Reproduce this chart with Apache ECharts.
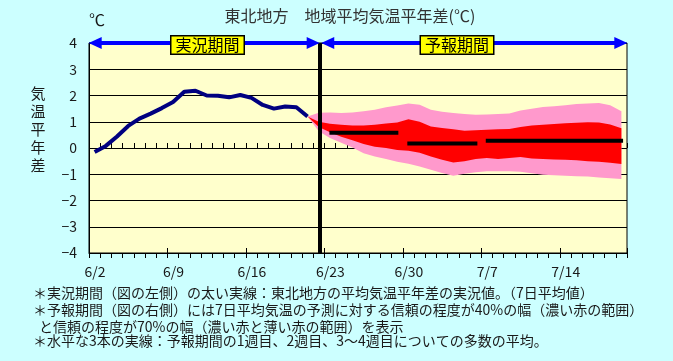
<!DOCTYPE html>
<html><head><meta charset="utf-8">
<script src="https://cdn.jsdelivr.net/npm/echarts@6/dist/echarts.min.js"></script>
<style>html,body{margin:0;padding:0;background:#CCFFFF;}#c{width:673px;height:361px;}</style>
</head><body><div id="c"></div>
<script>
// ---- data ----
const xTickLabels = ['6/2','6/9','6/16','6/23','6/30','7/7','7/14'];
const yTickValues = [-4,-3,-2,-1,0,1,2,3,4];
// observed 7-day mean anomaly, days 0..19 (6/2..6/21)
const obsValues = [-0.15,0.08,0.44,0.84,1.12,1.31,1.52,1.75,2.14,2.18,2.00,1.99,1.93,2.02,1.91,1.64,1.50,1.58,1.55,1.20];
const fcFirstDay = 19;   // forecast band starts at 6/21
const fcPinkHi = [1.20,1.34,1.35,1.33,1.35,1.40,1.46,1.55,1.62,1.70,1.65,1.46,1.38,1.33,1.30,1.27,1.28,1.30,1.31,1.43,1.50,1.56,1.59,1.63,1.68,1.70,1.71,1.63,1.40];
const fcRedHi  = [1.20,1.00,0.92,0.89,0.86,0.86,0.89,0.93,0.97,1.10,1.00,0.82,0.76,0.71,0.66,0.68,0.70,0.71,0.72,0.80,0.86,0.89,0.91,0.94,0.96,0.98,0.97,0.90,0.75];
const fcRedLo  = [1.20,0.80,0.60,0.43,0.30,0.15,0.05,0.00,-0.08,-0.10,-0.18,-0.32,-0.45,-0.55,-0.50,-0.42,-0.38,-0.42,-0.38,-0.34,-0.40,-0.42,-0.44,-0.45,-0.47,-0.50,-0.52,-0.56,-0.61];
const fcPinkLo = [1.20,0.64,0.38,0.20,0.02,-0.20,-0.32,-0.42,-0.52,-0.60,-0.70,-0.83,-0.95,-1.06,-0.98,-0.92,-0.89,-0.89,-0.89,-0.90,-0.96,-1.02,-1.04,-1.06,-1.08,-1.09,-1.12,-1.15,-1.18];
// ensemble means for week1, week2, weeks3-4
const weekMeanValues = [0.58, 0.17, 0.28];
const weekMeanStart  = [21.45, 28.4, 35.4];
const weekMeanEnd    = [27.6, 34.65, 47.65];
const periodSplitDay = 20.6;
// ---- build ----
const FONT = '"Noto Sans CJK JP", "Noto Sans", sans-serif';
const TXT = '#1a1a1a';
const obsData = obsValues.map((v,i)=>[i+0.5, v]);
const fx = i => fcFirstDay + 0.5 + i;
function bandSeries(hi, lo, color){
  const data = hi.map((v,i)=>[fx(i), lo[i], v]);
  return {
    type:'custom', silent:true, clip:true, data: data,
    renderItem: function(params, api){
      if (params.dataIndex !== 0) return null;
      const pts = [];
      for (let i=0;i<data.length;i++) pts.push(api.coord([data[i][0], data[i][2]]));
      for (let i=data.length-1;i>=0;i--) pts.push(api.coord([data[i][0], data[i][1]]));
      return {type:'polygon', shape:{points:pts}, style:{fill:color, stroke:null}};
    }
  };
}
const series = [
  bandSeries(fcPinkHi, fcPinkLo, '#FF99CC'),
  bandSeries(fcRedHi, fcRedLo, '#FF0000')
];
weekMeanValues.forEach((v,i)=>{
  series.push({type:'line', data:[[weekMeanStart[i], v],[weekMeanEnd[i], v]], symbol:'none',
    lineStyle:{color:'#000', width:4}, silent:true});
});
series[2].markLine = {silent:true, animation:false, symbol:'none', label:{show:false},
  lineStyle:{color:'#000', width:4, type:'solid'}, data:[{xAxis: periodSplitDay}]};
const arrowEnd = (x)=>({coord:[x,4], symbol:'triangle', symbolSize:[12,13]});
series.push({
  type:'line', data: obsData, symbol:'none', lineStyle:{color:'#000080', width:4}, silent:true,
  markLine: {silent:true, animation:false, label:{show:false},
    lineStyle:{color:'#0000FF', width:4, type:'solid'},
    data: [
      [arrowEnd(0.55), arrowEnd(20.0)],
      [arrowEnd(21.3), arrowEnd(47.45)]
    ]}
});
function dateLabel(v){
  const i = Math.round(v/7);
  return (Math.abs(v - i*7) < 1e-6 && i < xTickLabels.length) ? xTickLabels[i] : '';
}
const xBase = {type:'value', min:0, max:48, splitLine:{show:false}, gridIndex:0};
const option = {
  animation: false,
  backgroundColor: '#CCFFFF',
  grid: {left:89, top:43, width:538, height:210, show:true, backgroundColor:'#FFFFCC', borderColor:'#000', borderWidth:1},
  xAxis: [
    Object.assign({}, xBase, {interval:7, position:'bottom',
      axisLine:{onZero:false, lineStyle:{color:'#000', width:1}},
      axisTick:{show:true, inside:false, length:5, lineStyle:{color:'#000'}},
      axisLabel:{formatter: dateLabel, color:TXT, fontSize:14, fontFamily:FONT, margin:12, padding:[0,0,0,12], showMaxLabel:false}}),
    Object.assign({}, xBase, {interval:7, position:'bottom',
      axisLine:{show:false, onZero:false}, axisTick:{show:true, inside:true, length:5, lineStyle:{color:'#000'}},
      axisLabel:{show:false}}),
    Object.assign({}, xBase, {interval:1, position:'bottom',
      axisLine:{show:false, onZero:true}, axisTick:{show:true, inside:true, length:5, lineStyle:{color:'#000'}},
      axisLabel:{show:false}}),
    Object.assign({}, xBase, {interval:1, position:'bottom',
      axisLine:{show:false, onZero:true}, axisTick:{show:true, inside:false, length:5, lineStyle:{color:'#000'}},
      axisLabel:{show:false}})
  ],
  yAxis: {type:'value', min:-4, max:4, interval:1,
    axisLine:{show:true, onZero:false, lineStyle:{color:'#000'}}, axisTick:{show:false},
    splitLine:{show:true, lineStyle:{color:'#000', width:1}},
    axisLabel:{formatter: v => String(v).replace('-', '\u2212'), color:TXT, fontSize:14, fontFamily:FONT, margin:12}},
  series: series,
  graphic: [
    {type:'text', x:350, y:16, style:{text:'東北地方　地域平均気温平年差(℃)', font:'16px '+FONT, fill:'#333', align:'center', verticalAlign:'middle'}},
    {type:'text', x:89, y:12, style:{text:'℃', font:'16px '+FONT, fill:TXT}},
    {type:'text', x:38, y:129, style:{text:'気\n温\n平\n年\n差', font:'15px '+FONT, fill:TXT, align:'center', verticalAlign:'middle', lineHeight:18}},
    {type:'text', x:207.5, y:45, z:100, style:{text:'実況期間', font:'16px '+FONT, fill:'#000', align:'center', verticalAlign:'middle', backgroundColor:'#FFFF00', borderColor:'#000', borderWidth:1.5, padding:[1,4,0,4]}},
    {type:'text', x:457, y:45, z:100, style:{text:'予報期間', font:'16px '+FONT, fill:'#000', align:'center', verticalAlign:'middle', backgroundColor:'#FFFF00', borderColor:'#000', borderWidth:1.5, padding:[1,4,0,4]}},
    {type:'text', x:33, y:293, style:{text:'＊実況期間（図の左側）の太い実線：東北地方の平均気温平年差の実況値。（7日平均値）', font:'14px '+FONT, fill:TXT, verticalAlign:'middle'}},
    {type:'text', x:33, y:310, style:{text:'＊予報期間（図の右側）には7日平均気温の予測に対する信頼の程度が40%の幅（濃い赤の範囲）', font:'14px '+FONT, fill:TXT, verticalAlign:'middle'}},
    {type:'text', x:39, y:326.5, style:{text:'と信頼の程度が70%の幅（濃い赤と薄い赤の範囲）を表示', font:'14px '+FONT, fill:TXT, verticalAlign:'middle'}},
    {type:'text', x:33, y:341, style:{text:'＊水平な3本の実線：予報期間の1週目、2週目、3～4週目についての多数の平均。', font:'14px '+FONT, fill:TXT, verticalAlign:'middle'}}
  ]
};
echarts.init(document.getElementById('c')).setOption(option);
</script></body></html>
